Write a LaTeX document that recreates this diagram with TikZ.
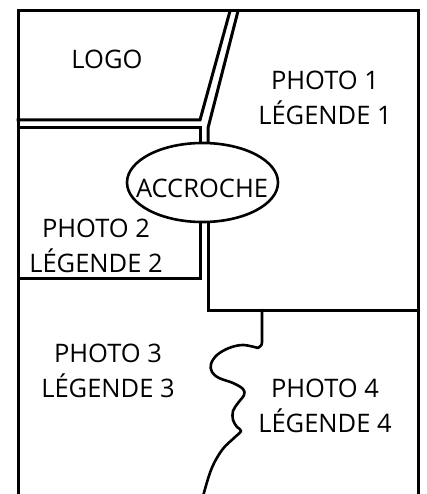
\documentclass[tikz,border=0pt]{standalone}
\usepackage{fontspec}
\setmainfont{Open Sans}
\usetikzlibrary{shapes.geometric}
\begin{document}
\begin{tikzpicture}[x=1pt,y=-1pt,
  wall/.style={line width=3pt, line join=miter, line cap=rect},
  wavy/.style={line width=2.6pt, line join=round, line cap=round},
  oval/.style={draw, ellipse, line width=2.6pt, fill=white, minimum width=151pt, minimum height=79pt, inner sep=0pt},
  lbl/.style={anchor=base, inner sep=0pt, font=\fontsize{25.5}{30}\selectfont}]
\useasboundingbox (0,0) rectangle (427,494);
\clip (0,0) rectangle (427,494);
% outer frame (open at the bottom)
\draw[wall] (18,500) -- (18,11) -- (418,11) -- (418,500);
% slanted double wall and the band under the logo
\draw[wall] (18,120) -- (200,120) -- (230,11);
\draw[wall] (238,11) -- (208,128) -- (208,183);
\draw[wall] (18,128) -- (200,128) -- (200,183);
% walls below the catch line
\draw[wall] (200,183) -- (200,278) -- (18,278);
\draw[wall] (208,183) -- (208,310) -- (418,310);
% wavy border between photo 3 and photo 4
\draw[wavy] (262,310) -- (262,340) .. controls (262,345) .. (258,348);
\draw[wavy] plot[smooth, tension=0.6] coordinates {(258,348) (243,345) (229,348) (217,355) (211,364) (212,372) (219,378) (233,383) (243,389) (244,395) (238,403) (233,411) (233,420) (237,427) (241,431) (234,438) (222,450) (211,470) (202,500)};
% catch line
\node[oval] (acc) at (202.5,182.5) {};
\node[lbl] (accText) at (202,197) {ACCROCHE};
% labels
\node[lbl] (logo) at (107,69) {LOGO};
\node[lbl] (p1) at (325,90) {PHOTO 1};
\node[lbl] (l1) at (325,125) {LÉGENDE 1};
\node[lbl] (p2) at (96,237) {PHOTO 2};
\node[lbl] (l2) at (96,272) {LÉGENDE 2};
\node[lbl] (p3) at (108,362) {PHOTO 3};
\node[lbl] (l3) at (108,397) {LÉGENDE 3};
\node[lbl] (p4) at (325,397) {PHOTO 4};
\node[lbl] (l4) at (325,432) {LÉGENDE 4};
\end{tikzpicture}
\end{document}
